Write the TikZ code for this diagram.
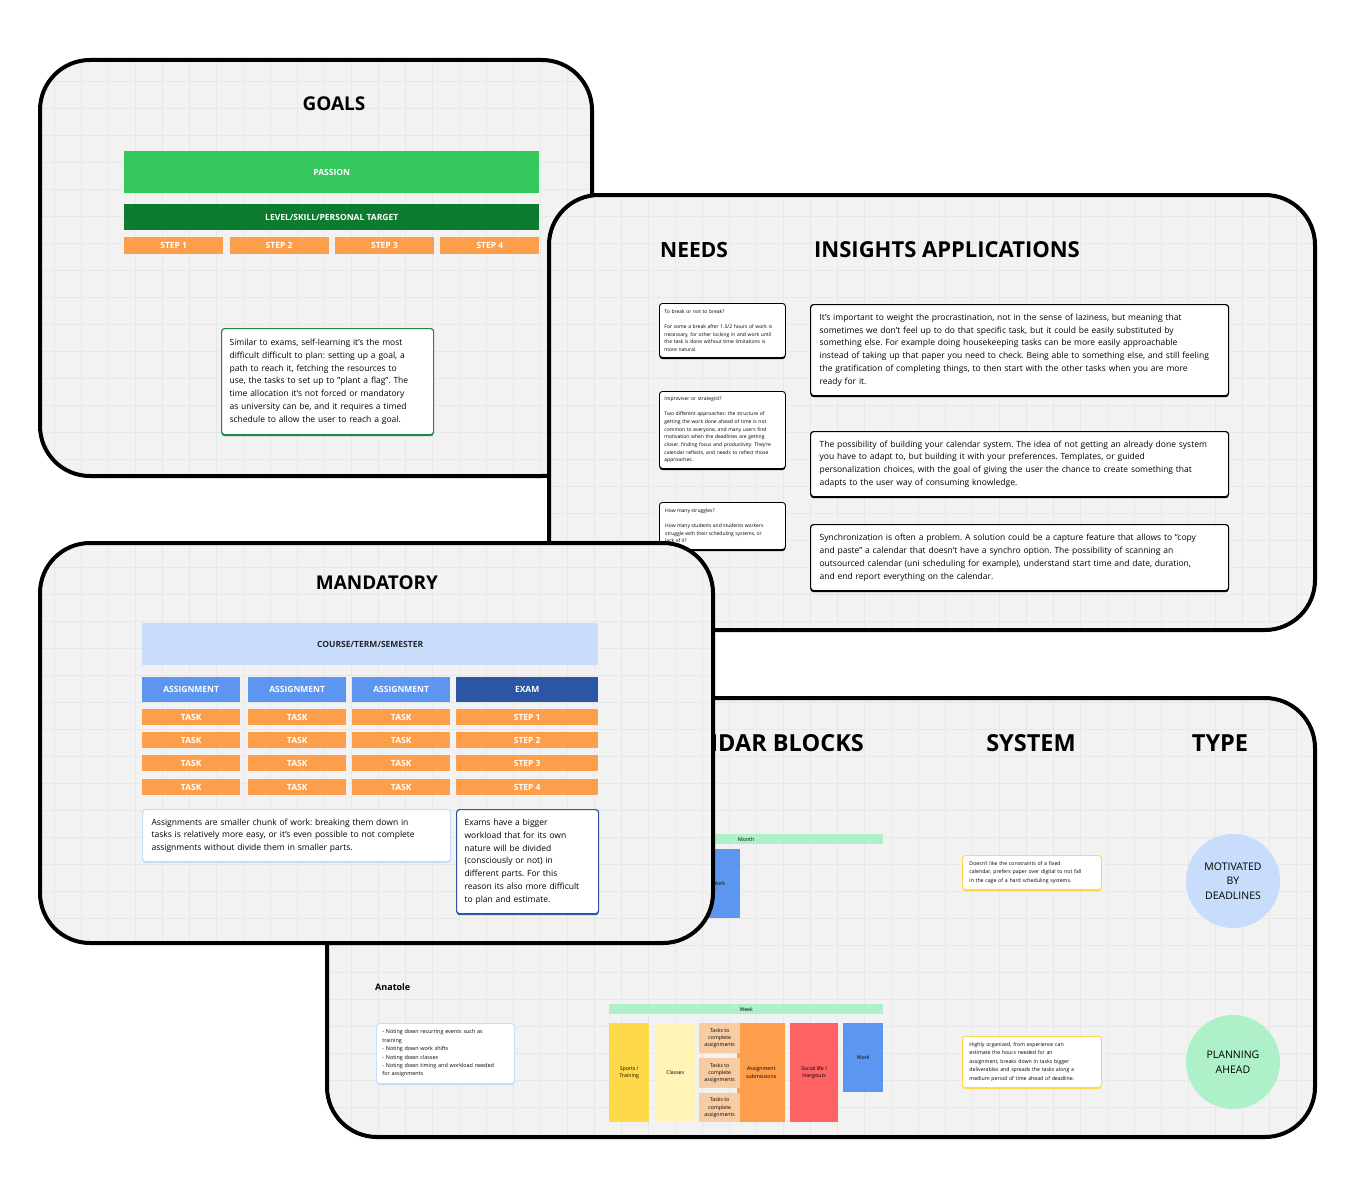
\documentclass[tikz,border=0pt]{standalone}
\usepackage{fontspec}
\setmainfont{Open Sans}
\usepackage{tikz}
\usetikzlibrary{positioning,shadows}
\definecolor{panelbg}{HTML}{F2F2F2}
\definecolor{gridln}{HTML}{E7E7E7}
\definecolor{passion}{HTML}{33C75C}
\definecolor{target}{HTML}{0C7A2F}
\definecolor{orng}{HTML}{FD9E4B}
\definecolor{gborder}{HTML}{1F8B3B}
\definecolor{lblue}{HTML}{C8DCFB}
\definecolor{mblue}{HTML}{5D96F0}
\definecolor{dblue}{HTML}{2C55A6}
\definecolor{peach}{HTML}{F8CCA3}
\definecolor{yell}{HTML}{FEDA4A}
\definecolor{pyell}{HTML}{FFF4B5}
\definecolor{redish}{HTML}{FE6262}
\definecolor{mint}{HTML}{AEF0C8}
\frenchspacing
\hyphenpenalty=10000

% board with grid, corners x1,y1,x2,y2
\newcommand{\boardpanel}[4]{%
  \begin{scope}
    \clip[rounded corners=50pt] (#1,#2) rectangle (#3,#4);
    \fill[panelbg] (#1,#2) rectangle (#3,#4);
    \draw[gridln, line width=0.7pt, step=27pt] (#1,#2) grid (#3,#4);
  \end{scope}
  \draw[line width=4pt, rounded corners=50pt] (#1,#2) rectangle (#3,#4);
}

\begin{document}
\begin{tikzpicture}[
  x=1pt, y=-1pt,
  titletxt/.style={inner sep=0pt, font=\bfseries\fontsize{19}{23}\selectfont},
  bigtitle/.style={inner sep=0pt, font=\bfseries\fontsize{#1}{26}\selectfont},
  barnode/.style={anchor=north west, inner sep=0pt, text=white, font=\bfseries\fontsize{8.5}{11}\selectfont},
  stepbox/.style={barnode, fill=orng, minimum width=99pt, minimum height=17pt},
  taskbox/.style={barnode, fill=orng, minimum width=98pt, minimum height=16pt},
  notebox/.style={draw=#1, fill=white, line width=1.2pt, rounded corners=3pt, anchor=north west, align=left,
    inner xsep=9pt, inner ysep=0pt, font=\fontsize{8.5}{12.8}\selectfont,
    general shadow={fill=#1, shadow yshift=-1.6pt}},
  memobox/.style={notebox=#1, line width=0.9pt, inner xsep=5pt, font=\fontsize{5}{7.7}\selectfont},
  chip/.style={anchor=north west, inner sep=0pt, align=center, font=\fontsize{5.2}{7.3}\selectfont},
  bubble/.style={circle, minimum size=94pt, inner sep=0pt, align=center, font=\fontsize{10.5}{14.5}\selectfont}
]
\useasboundingbox (0,0) rectangle (1355,1196);

% goals
\boardpanel{40}{60}{592}{476}
\node[titletxt] (goals) at (334,104) {GOALS};
\node[barnode, fill=passion, minimum width=415pt, minimum height=42pt] (passion) at (124,151) {PASSION};
\node[barnode, fill=target, minimum width=415pt, minimum height=26pt] (target) at (124,204) {LEVEL/SKILL/PERSONAL TARGET};
\node[stepbox] (st1) at (124,237) {STEP 1};
\node[stepbox, right=6pt of st1] (st2) {STEP 2};
\node[stepbox, right=6pt of st2] (st3) {STEP 3};
\node[stepbox, right=6pt of st3] (st4) {STEP 4};
\node[notebox=gborder, text width=196pt, inner xsep=8pt, minimum height=106pt] (gnote) at (221,328)
  {Similar to exams, self-learning it's the most\\
   difficult difficult to plan: setting up a goal, a\\
   path to reach it, fetching the resources to\\
   use, the tasks to set up to "plant a flag". The\\
   time allocation it's not forced or mandatory\\
   as university can be, and it requires a timed\\
   schedule to allow the user to reach a goal.};

% needs and insights
\boardpanel{549}{195}{1315}{630}
\node[bigtitle=21, anchor=west] (needs) at (660,250) {NEEDS};
\node[bigtitle=22, anchor=west] (insights) at (814,250) {INSIGHTS APPLICATIONS};
\node[memobox=black, text width=116pt, minimum height=54pt] (nd1) at (659,303)
  {To break or not to break?\\[7.7pt]
   For some a break after 1.5/2 hours of work is\\
   necessary, for other locking in and work until\\
   the task is done without time limitations is\\
   more natural.};
\node[memobox=black, text width=116pt, minimum height=77pt] (nd2) at (659,391)
  {Improviser or strategist?\\[7.7pt]
   Two different approaches: the structure of\\
   getting the work done ahead of time is not\\
   common to everyone, and many users find\\
   motivation when the deadlines are getting\\
   closer, finding focus and productivity. They're\\
   calendar reflects, and needs to reflect those\\
   approaches.};
\node[memobox=black, text width=116pt, minimum height=47pt] (nd3) at (659,502) {};
\node[anchor=north west, inner sep=0pt, align=left, font=\fontsize{5}{7.7}\selectfont] (nd3txt) at (665,508)
  {How many struggles?\\[7.7pt]
   How many students and students workers\\
   struggle with their scheduling systems, or\\
   lack of it?};
\node[notebox=black, text width=400pt, minimum height=91pt] (ins1) at (810,304)
  {It’s important to weight the procrastination, not in the sense of laziness, but meaning that\\
   sometimes we don’t feel up to do that specific task, but it could be easily substituted by\\
   something else. For example doing housekeeping tasks can be more easily approachable\\
   instead of taking up that paper you need to check. Being able to something else, and still feeling\\
   the gratification of completing things, to then start with the other tasks when you are more\\
   ready for it.};
\node[notebox=black, text width=400pt, minimum height=65pt] (ins2) at (810,431)
  {The possibility of building your calendar system. The idea of not getting an already done system\\
   you have to adapt to, but building it with your preferences. Templates, or guided\\
   personalization choices, with the goal of giving the user the chance to create something that\\
   adapts to the user way of consuming knowledge.};
\node[notebox=black, text width=400pt, minimum height=66pt] (ins3) at (810,524)
  {Synchronization is often a problem. A solution could be a capture feature that allows to “copy\\
   and paste” a calendar that doesn’t have a synchro option. The possibility of scanning an\\
   outsourced calendar (uni scheduling for example), understand start time and date, duration,\\
   and end report everything on the calendar.};

% calendar blocks, system, type
\boardpanel{327}{698}{1315}{1137}
\node[bigtitle=23.5, anchor=east] (blocks) at (864,743) {CALENDAR BLOCKS};
\node[bigtitle=23.5] (system) at (1031,743) {SYSTEM};
\node[bigtitle=23.5] (type) at (1220,743) {TYPE};
\node[chip, fill=mint, minimum width=274pt, minimum height=10pt] (month) at (609,834) {Month};
\node[chip, fill=mblue, minimum width=43pt, minimum height=69pt] (mwork) at (697,849) {Work};
\node[anchor=west, inner sep=0pt, font=\bfseries\fontsize{9}{11}\selectfont] (anatole) at (375,987) {Anatole};
\node[memobox=lblue, inner xsep=6pt, text width=126pt, minimum height=60pt, font=\fontsize{5.4}{8.4}\selectfont] (anote) at (376,1023)
  {- Noting down recurring events such as\\
   training\\
   - Noting down work shifts\\
   - Noting down classes\\
   - Noting down timing and workload needed\\
   for assignments};
\node[chip, fill=mint, minimum width=274pt, minimum height=10pt] (week) at (609,1004) {Week};
\node[chip, fill=yell, minimum width=40pt, minimum height=99pt] (sport) at (609,1023) {Sports /\\Training};
\node[chip, fill=pyell, minimum width=40pt, minimum height=99pt] (classes) at (655,1023) {Classes};
\node[chip, fill=orng, minimum width=48pt, minimum height=99pt] (subm) at (737,1023) {Assignment\\submissions};
\node[chip, fill=peach, minimum width=41pt, minimum height=30pt] (tk1) at (699,1023) {Tasks to\\complete\\assignments};
\node[chip, fill=peach, minimum width=41pt, minimum height=30pt] (tk2) at (699,1058) {Tasks to\\complete\\assignments};
\node[chip, fill=peach, minimum width=41pt, minimum height=29pt] (tk3) at (699,1093) {Tasks to\\complete\\assignments};
\node[chip, fill=redish, minimum width=48pt, minimum height=99pt] (social) at (790,1023) {Social life /\\Hangouts};
\node[chip, fill=mblue, minimum width=40pt, minimum height=69pt] (wwork) at (843,1023) {Work};
\node[memobox=yell, inner xsep=7pt, text width=125pt, minimum height=34pt, font=\fontsize{5.2}{8.5}\selectfont] (sys1) at (962,855)
  {Doesn't like the constraints of a fixed\\
   calendar, prefers paper over digital to not fall\\
   in the cage of a hard scheduling systems.};
\node[memobox=yell, inner xsep=7pt, text width=125pt, minimum height=51pt, font=\fontsize{5.2}{8.5}\selectfont] (sys2) at (962,1036)
  {Highly organized, from experience can\\
   estimate the hours needed for an\\
   assignment, breaks down in tasks bigger\\
   deliverables and spreads the tasks along a\\
   medium period of time ahead of deadline.};
\node[bubble, fill=lblue] (motiv) at (1233,881) {MOTIVATED\\BY\\DEADLINES};
\node[bubble, fill=mint] (plan) at (1233,1062) {PLANNING\\AHEAD};

% mandatory
\boardpanel{40}{543}{713}{943}
\node[titletxt] (mandatory) at (377,583) {MANDATORY};
\node[barnode, fill=lblue, text=black!85, minimum width=456pt, minimum height=42pt] (course) at (142,623) {COURSE/TERM/SEMESTER};
\node[barnode, fill=mblue, minimum width=98pt, minimum height=25pt] (as1) at (142,677) {ASSIGNMENT};
\node[barnode, fill=mblue, minimum width=98pt, minimum height=25pt] (as2) at (248,677) {ASSIGNMENT};
\node[barnode, fill=mblue, minimum width=98pt, minimum height=25pt] (as3) at (352,677) {ASSIGNMENT};
\node[barnode, fill=dblue, minimum width=142pt, minimum height=25pt] (exam) at (456,677) {EXAM};
\node[taskbox] (t11) at (142,709) {TASK};
\node[taskbox] (t21) at (248,709) {TASK};
\node[taskbox] (t31) at (352,709) {TASK};
\node[taskbox, minimum width=142pt] (ex1) at (456,709) {STEP 1};
\node[taskbox] (t12) at (142,732) {TASK};
\node[taskbox] (t22) at (248,732) {TASK};
\node[taskbox] (t32) at (352,732) {TASK};
\node[taskbox, minimum width=142pt] (ex2) at (456,732) {STEP 2};
\node[taskbox] (t13) at (142,755) {TASK};
\node[taskbox] (t23) at (248,755) {TASK};
\node[taskbox] (t33) at (352,755) {TASK};
\node[taskbox, minimum width=142pt] (ex3) at (456,755) {STEP 3};
\node[taskbox] (t14) at (142,779) {TASK};
\node[taskbox] (t24) at (248,779) {TASK};
\node[taskbox] (t34) at (352,779) {TASK};
\node[taskbox, minimum width=142pt] (ex4) at (456,779) {STEP 4};
\node[notebox=lblue, text width=290pt, minimum height=52pt] (mnote1) at (142,809)
  {Assignments are smaller chunk of work: breaking them down in\\
   tasks is relatively more easy, or it's even possible to not complete\\
   assignments without divide them in smaller parts.};
\node[notebox=dblue, text width=126pt, inner xsep=8pt, minimum height=104pt] (mnote2) at (456,809)
  {Exams have a bigger\\
   workload that for its own\\
   nature will be divided\\
   (consciously or not) in\\
   different parts. For this\\
   reason its also more difficult\\
   to plan and estimate.};
\end{tikzpicture}
\end{document}
